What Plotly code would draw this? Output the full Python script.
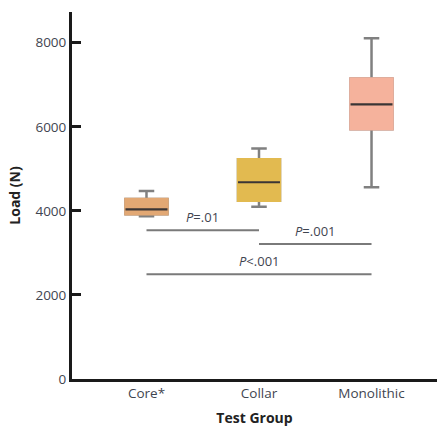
import plotly.graph_objects as go

groups = ["Core*", "Collar", "Monolithic"]
lower_whisker = [3870, 4095, 4560]
q1 = [3920, 4240, 5940]
median = [4035, 4680, 6535]
q3 = [4280, 5225, 7150]
upper_whisker = [4470, 5485, 8105]
fills = ["#e2a874", "#e2ba50", "#f5b29c"]

comp_from = [0, 1, 0]
comp_to = [1, 2, 2]
comp_y = [3540, 3210, 2490]
comp_text = ["<i>P</i>=.01", "<i>P</i>=.001", "<i>P</i>&lt;.001"]

BOXW = 0.373
WHISK = "#808080"
TXT = "#3f4550"
FONT = "Open Sans"

fig = go.Figure()
xs = list(range(len(groups)))
for i in xs:
    fig.add_trace(go.Box(
        x=[i], q1=[q1[i]], median=[median[i]], q3=[q3[i]],
        lowerfence=[lower_whisker[i]], upperfence=[upper_whisker[i]],
        width=BOXW, whiskerwidth=0.37, fillcolor=fills[i],
        line=dict(color=WHISK, width=2.5), hoverinfo="skip", showlegend=False,
    ))
for i in xs:
    fig.add_trace(go.Box(
        x=[i], q1=[q1[i]], median=[median[i]], q3=[q3[i]],
        lowerfence=[q1[i]], upperfence=[q3[i]],
        width=BOXW, whiskerwidth=0, fillcolor=fills[i],
        line=dict(color=fills[i], width=2.5), hoverinfo="skip", showlegend=False,
    ))
mx, my = [], []
for i in xs:
    mx += [i - BOXW / 2, i + BOXW / 2, None]
    my += [median[i], median[i], None]
fig.add_trace(go.Scatter(x=mx, y=my, mode="lines", line=dict(color="#3a3535", width=2.2),
                         hoverinfo="skip", showlegend=False))

cx, cy = [], []
for a, b, y in zip(comp_from, comp_to, comp_y):
    cx += [a, b, None]
    cy += [y, y, None]
fig.add_trace(go.Scatter(x=cx, y=cy, mode="lines", line=dict(color="#7a7a7a", width=2),
                         hoverinfo="skip", showlegend=False))
for a, b, y, t in zip(comp_from, comp_to, comp_y, comp_text):
    fig.add_annotation(x=(a + b) / 2, y=y, text=t, showarrow=False, yanchor="bottom",
                       yshift=2, font=dict(family=FONT, size=13, color=TXT))

fig.update_layout(
    width=444, height=427, margin=dict(l=72, r=7, t=12, b=48),
    paper_bgcolor="white", plot_bgcolor="white", boxmode="overlay",
    font=dict(family=FONT, size=13, color=TXT),
)
fig.update_xaxes(
    range=[-0.662, 2.582], tickvals=xs, ticktext=groups, showgrid=False, zeroline=False,
    showline=True, linecolor="#1a1a1a", linewidth=3, ticks="", automargin=False,
    title=dict(text="<b>Test Group</b>", font=dict(family=FONT, size=14, color="#222"), standoff=16),
    tickfont=dict(family=FONT, size=13.5, color=TXT),
)
fig.update_yaxes(
    range=[0, 8730], tickvals=[0, 2000, 4000, 6000, 8000], showgrid=False, zeroline=False,
    showline=True, linecolor="#1a1a1a", linewidth=3, ticks="inside", ticklen=9, tickwidth=2.5,
    tickcolor="#1a1a1a", automargin=False,
    title=dict(text="<b>Load (N)</b>", font=dict(family=FONT, size=14, color="#222"), standoff=12),
    tickfont=dict(family=FONT, size=13.5, color=TXT),
)
fig.write_html("out.html")
